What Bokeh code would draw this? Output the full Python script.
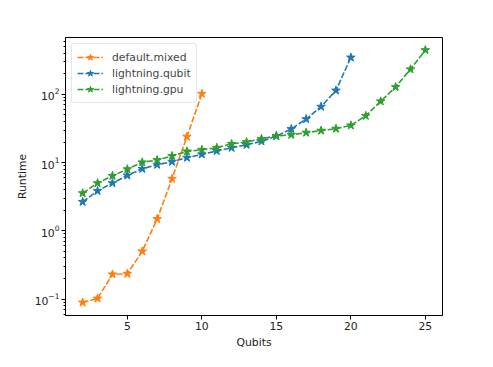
from bokeh.plotting import figure
from bokeh.models import Range1d, FixedTicker, Legend, LegendItem
from bokeh.embed import file_html
from bokeh.resources import INLINE

qubits_mixed = [2, 3, 4, 5, 6, 7, 8, 9, 10]
runtime_mixed = [0.089, 0.102, 0.23, 0.235, 0.50, 1.49, 5.8, 24.0, 102.0]

qubits_qubit = [2, 3, 4, 5, 6, 7, 8, 9, 10, 11, 12, 13, 14, 15, 16, 17, 18, 19, 20]
runtime_qubit = [2.66, 3.84, 5.0, 6.48, 8.1, 9.3, 10.3, 11.8, 13.2, 14.8, 16.5, 18.2,
                 20.5, 24.4, 31.1, 43.4, 66.0, 114.0, 347.0]

qubits_gpu = [2, 3, 4, 5, 6, 7, 8, 9, 10, 11, 12, 13, 14, 15, 16, 17, 18, 19, 20,
              21, 22, 23, 24, 25]
runtime_gpu = [3.56, 5.0, 6.4, 8.0, 10.1, 10.9, 12.5, 14.6, 15.4, 16.5, 18.8, 20.0,
               22.3, 24.6, 25.5, 27.5, 29.4, 31.4, 35.1, 48.5, 79.0, 128.0, 233.0, 445.0]

x_ticks = [5, 10, 15, 20, 25]

series = [
    ("default.mixed", qubits_mixed, runtime_mixed, "#ff7f0e"),
    ("lightning.qubit", qubits_qubit, runtime_qubit, "#1f77b4"),
    ("lightning.gpu", qubits_gpu, runtime_gpu, "#2ca02c"),
]

p = figure(width=477, height=351, output_backend="svg", toolbar_location=None,
           y_axis_type="log",
           x_range=Range1d(0.85, 26.15), y_range=Range1d(0.0574, 681.0),
           min_border_left=65, min_border_right=35, min_border_top=37, min_border_bottom=34)

p.xgrid.visible = False
p.ygrid.visible = False
p.outline_line_color = "black"
p.outline_line_width = 1
p.background_fill_color = "white"
p.border_fill_color = "white"

items = []
for name, xs, ys, col in series:
    r1 = p.line(xs, ys, line_color=col, line_width=1.6, line_dash="6 2")
    r2 = p.scatter(xs, ys, marker="star", size=9, fill_color=col, line_color=col)
    items.append(LegendItem(label=name, renderers=[r1, r2]))

legend = Legend(items=items, location="top_left")
legend.margin = 6
legend.padding = 5
legend.spacing = 0
legend.glyph_width = 26
legend.glyph_height = 16
legend.label_standoff = 9
legend.label_text_font = "DejaVu Sans"
legend.label_text_font_size = "10.8px"
legend.border_line_color = "#cccccc"
legend.border_radius = 3
legend.background_fill_alpha = 0.8
p.add_layout(legend)

for ax in (p.xaxis[0], p.yaxis[0]):
    ax.axis_line_color = "black"
    ax.major_tick_in = 0
    ax.major_tick_out = 4
    ax.minor_tick_in = 0
    ax.minor_tick_out = 2
    ax.major_label_standoff = 2
    ax.axis_label_standoff = 3
    ax.major_label_text_font = "DejaVu Sans"
    ax.major_label_text_font_size = "10.8px"
    ax.major_label_text_color = "#222222"
    ax.axis_label_text_font = "DejaVu Sans"
    ax.axis_label_text_font_size = "10.8px"
    ax.axis_label_text_font_style = "normal"
    ax.axis_label_text_color = "#222222"

p.xaxis.ticker = FixedTicker(ticks=x_ticks)
p.xaxis.axis_label = "Qubits"
p.yaxis.axis_label = "Runtime"
p.yaxis.ticker.num_minor_ticks = 10

open("out.html", "w").write(file_html(p, INLINE))
